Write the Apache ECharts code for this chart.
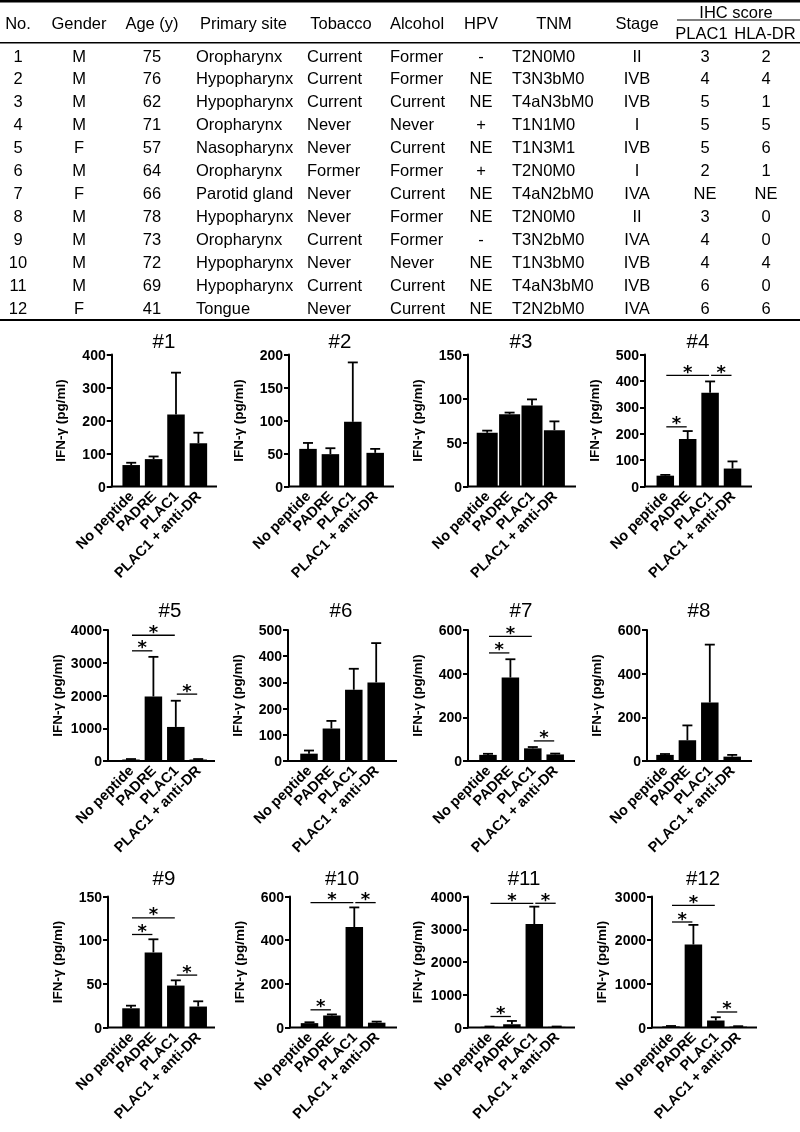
<!DOCTYPE html>
<html><head><meta charset="utf-8">
<script src="https://cdn.jsdelivr.net/npm/echarts@6/dist/echarts.min.js"></script>
<style>html,body{margin:0;padding:0;background:#fff}#c{width:800px;height:1132px;will-change:transform;transform:translateZ(0)}</style>
</head><body><div id="c"></div>
<script>
// ---------- Table data ----------
const tableHeaders = ['No.', 'Gender', 'Age (y)', 'Primary site', 'Tobacco', 'Alcohol', 'HPV', 'TNM', 'Stage', 'PLAC1', 'HLA-DR'];
const ihcHeader = 'IHC score';
const patientNo = ['1','2','3','4','5','6','7','8','9','10','11','12'];
const gender = ['M','M','M','M','F','M','F','M','M','M','M','F'];
const age = ['75','76','62','71','57','64','66','78','73','72','69','41'];
const primarySite = ['Oropharynx','Hypopharynx','Hypopharynx','Oropharynx','Nasopharynx','Oropharynx','Parotid gland','Hypopharynx','Oropharynx','Hypopharynx','Hypopharynx','Tongue'];
const tobacco = ['Current','Current','Current','Never','Never','Former','Never','Never','Current','Never','Current','Never'];
const alcohol = ['Former','Former','Current','Never','Current','Former','Current','Former','Former','Never','Current','Current'];
const hpv = ['-','NE','NE','+','NE','+','NE','NE','-','NE','NE','NE'];
const tnm = ['T2N0M0','T3N3bM0','T4aN3bM0','T1N1M0','T1N3M1','T2N0M0','T4aN2bM0','T2N0M0','T3N2bM0','T1N3bM0','T4aN3bM0','T2N2bM0'];
const stage = ['II','IVB','IVB','I','IVB','I','IVA','II','IVA','IVB','IVB','IVA'];
const ihcPlac1 = ['3','4','5','5','5','2','NE','3','4','4','6','6'];
const ihcHlaDr = ['2','4','1','5','6','1','NE','0','0','4','0','6'];

// ---------- Chart data ----------
const conditions = ['No peptide', 'PADRE', 'PLAC1', 'PLAC1 + anti-DR'];
const patientTitles = ['#1','#2','#3','#4','#5','#6','#7','#8','#9','#10','#11','#12'];
const yAxisName = 'IFN-γ (pg/ml)';
const ifnMean = [
  [65, 83, 218, 131],
  [57, 49, 98, 51],
  [61, 82, 92, 64],
  [41, 180, 355, 68],
  [45, 1970, 1040, 45],
  [28, 124, 272, 300],
  [28, 382, 58, 30],
  [28, 95, 268, 20],
  [22, 86, 48, 24],
  [20, 55, 460, 22],
  [20, 100, 3160, 20],
  [25, 1900, 160, 20]
];
const ifnErr = [
  [7, 8, 127, 32],
  [9, 9, 90, 6],
  [2.5, 2, 7, 10],
  [3, 30, 43, 27],
  [15, 1210, 800, 15],
  [12, 29, 80, 150],
  [5, 84, 6, 4],
  [4, 68, 265, 8],
  [3, 15, 6, 6],
  [4, 5, 90, 5],
  [10, 100, 530, 10],
  [10, 450, 75, 10]
];
const yAxisMax = [400, 200, 150, 500, 4000, 500, 600, 600, 150, 600, 4000, 3000];
const yAxisStep = [100, 50, 50, 100, 1000, 100, 200, 200, 50, 200, 1000, 1000];
// significance brackets: [fromCondition, toCondition, height]
const significance = [
  [], [], [],
  [[0,1,226],[0,2,421],[2,3,421]],
  [[0,1,3364],[0,2,3840],[2,3,2042]],
  [],
  [[0,1,495],[0,2,571],[2,3,92]],
  [],
  [[0,1,106.5],[0,2,125.5],[2,3,60]],
  [[0,1,81],[0,2,572],[2,3,572]],
  [[0,1,336],[0,2,3793],[2,3,3793]],
  [[0,1,2416],[0,2,2795],[2,3,355]]
];

// ---------- Layout ----------
const FONT = '"Liberation Sans", Arial, sans-serif';
const STAR_FONT = '"DejaVu Sans", sans-serif';
const axisX =     [111.7, 289, 468, 645,  108, 288, 468, 647,  108, 290, 468, 652];
const axisEndX =  [217, 394, 576, 752,  215, 397, 575, 752,  215, 397, 575, 757];
const firstBarX = [131.2, 308, 487.2, 665.3,  131, 309, 488, 665,  131, 309.5, 489.5, 671];
const barWidthPx = [17.5, 17.5, 21, 17.5, 17.5, 17.5, 17.5, 17.5, 17.5, 17.5, 17.5, 17.5];
const BAR_STEP = 22.4;
const rowTop = [354.5, 630, 896.5];
const rowBottom = [486.5, 761, 1027.5];
const titleX = [164, 340, 521, 698, 170, 341, 521, 699, 164, 342, 524, 703];
const titleY = [341, 610, 877.5];

function renderErr(params, api) {
  const x = api.value(0), m = api.value(1), e = api.value(2);
  const p0 = api.coord([x, m]);
  const p1 = api.coord([x, m + e]);
  const hw = 5;
  return { type: 'group', children: [
    { type: 'line', shape: { x1: p0[0], y1: p0[1], x2: p1[0], y2: p1[1] }, style: { stroke: '#000', lineWidth: 1.8 } },
    { type: 'line', shape: { x1: p1[0] - hw, y1: p1[1], x2: p1[0] + hw, y2: p1[1] }, style: { stroke: '#000', lineWidth: 1.8 } }
  ]};
}
function renderSig(params, api) {
  const a = api.coord([api.value(0), api.value(2)]);
  const b = api.coord([api.value(1), api.value(2)]);
  return { type: 'group', children: [
    { type: 'line', shape: { x1: a[0] + 1, y1: a[1], x2: b[0] - 1, y2: a[1] }, style: { stroke: '#000', lineWidth: 1.3 } },
    { type: 'text', x: (a[0] + b[0]) / 2, y: a[1] - 4,
      style: { text: '*', fontSize: 18, lineHeight: 12, fontWeight: 'bold', fontFamily: STAR_FONT, fill: '#000', align: 'center', verticalAlign: 'middle', textAlign: 'center', textVerticalAlign: 'middle' } }
  ]};
}

const grids = [], xAxes = [], yAxes = [], series = [], graphics = [];
function gText(text, x, y, align, size, weight, lh) {
  const style = { text: text, fill: '#000', fontSize: size || 16.5, fontWeight: weight || 'normal', fontFamily: FONT,
      align: align, textAlign: align, verticalAlign: 'middle', textVerticalAlign: 'middle' };
  if (lh) style.lineHeight = lh;
  graphics.push({ type: 'text', x: x, y: y, silent: true, style: style });
}
function gLine(x1, y1, x2, y2, w) {
  graphics.push({ type: 'line', silent: true, shape: { x1, y1, x2, y2 }, style: { stroke: '#000', lineWidth: w } });
}

// ---------- Table ----------
const headerY = 23, rowY0 = 55.5, rowPitch = 22.95;
gLine(0, 1.3, 800, 1.3, 2.6);
gLine(0, 42.7, 800, 42.7, 1.5);
gLine(677, 20, 800, 20, 1.2);
gLine(0, 320, 800, 320, 2);
const cols = [
  { data: patientNo,   hx: 18,    hy: headerY, ex: 18,  align: 'center', halign: 'center' },
  { data: gender,      hx: 79,    hy: headerY, ex: 79,  align: 'center', halign: 'center' },
  { data: age,         hx: 152,   hy: headerY, ex: 152, align: 'center', halign: 'center' },
  { data: primarySite, hx: 243.5, hy: headerY, ex: 196, align: 'left',   halign: 'center' },
  { data: tobacco,     hx: 341,   hy: headerY, ex: 307, align: 'left',   halign: 'center' },
  { data: alcohol,     hx: 417,   hy: headerY, ex: 390, align: 'left',   halign: 'center' },
  { data: hpv,         hx: 481,   hy: headerY, ex: 481, align: 'center', halign: 'center' },
  { data: tnm,         hx: 554,   hy: headerY, ex: 512, align: 'left',   halign: 'center' },
  { data: stage,       hx: 637,   hy: headerY, ex: 637, align: 'center', halign: 'center' },
  { data: ihcPlac1,    hx: 701.5, hy: 33,      ex: 705, align: 'center', halign: 'center' },
  { data: ihcHlaDr,    hx: 765,   hy: 33,      ex: 766, align: 'center', halign: 'center' }
];
cols.forEach((c, ci) => {
  gText(tableHeaders[ci], c.hx, c.hy, c.halign);
  c.data.forEach((v, r) => gText(v, c.ex, rowY0 + r * rowPitch, c.align));
});
gText(ihcHeader, 736, 11.5, 'center');

// ---------- Bar charts ----------
for (let i = 0; i < 12; i++) {
  const row = Math.floor(i / 4);
  const left = firstBarX[i] - BAR_STEP / 2;
  grids.push({ left: left, top: rowTop[row], width: BAR_STEP * 4, height: rowBottom[row] - rowTop[row] });
  xAxes.push({ gridIndex: i, type: 'category', data: conditions, boundaryGap: true,
    axisLine: { show: false }, axisTick: { show: false },
    axisLabel: { rotate: 45, interval: 0, margin: 7, fontSize: 14.5, fontWeight: 'bold', color: '#000', fontFamily: FONT } });
  yAxes.push({ gridIndex: i, type: 'value', min: 0, max: yAxisMax[i], interval: yAxisStep[i],
    offset: left - axisX[i],
    name: yAxisName, nameLocation: 'middle', nameGap: 44,
    nameTextStyle: { fontSize: 13.5, fontWeight: 'bold', color: '#000', fontFamily: FONT },
    axisLine: { show: true, lineStyle: { color: '#000', width: 2 } },
    axisTick: { show: true, length: 5, lineStyle: { color: '#000', width: 2 } },
    axisLabel: { margin: 6, fontSize: 14, fontWeight: 'bold', color: '#000', fontFamily: FONT, formatter: v => String(v) },
    splitLine: { show: false } });
  series.push({ type: 'bar', xAxisIndex: i, yAxisIndex: i, data: ifnMean[i], barWidth: barWidthPx[i],
    itemStyle: { color: '#000' }, silent: true });
  series.push({ type: 'custom', xAxisIndex: i, yAxisIndex: i, renderItem: renderErr, silent: true,
    itemStyle: { color: '#000' },
    data: ifnMean[i].map((m, k) => [k, m, ifnErr[i][k]]), encode: { x: 0, y: 1 }, z: 3 });
  if (significance[i].length) {
    series.push({ type: 'custom', xAxisIndex: i, yAxisIndex: i, renderItem: renderSig, silent: true,
      itemStyle: { color: '#000' },
      data: significance[i], encode: { x: [0, 1], y: 2 }, z: 3 });
  }
  // x baseline spanning the full axis length
  gLine(axisX[i] - 1, rowBottom[row], axisEndX[i], rowBottom[row], 2);
  // panel title
  gText(patientTitles[i], titleX[i], titleY[row] - 0.5, 'center', 20.5, 'normal', 17);
}

const chart = echarts.init(document.getElementById('c'), null, { renderer: 'svg', width: 800, height: 1132 });
chart.setOption({
  animation: false,
  backgroundColor: 'transparent',
  color: ['#000'],
  textStyle: { fontFamily: FONT },
  grid: grids, xAxis: xAxes, yAxis: yAxes, series: series,
  graphic: { elements: graphics }
});
</script>
</body></html>
